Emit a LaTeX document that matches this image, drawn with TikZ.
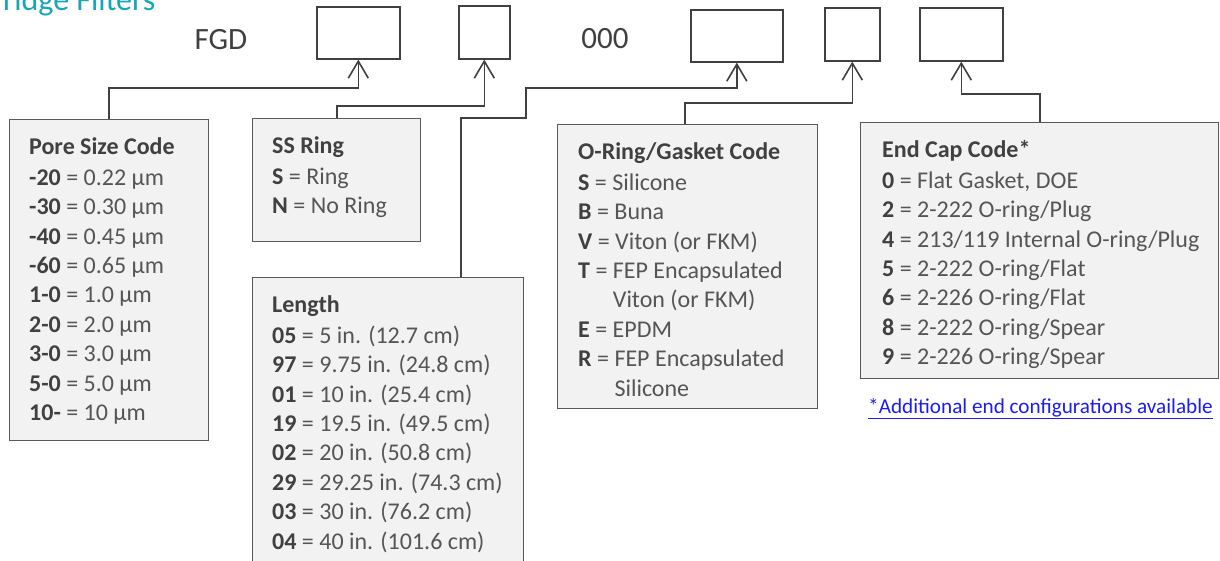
\documentclass[tikz,border=0pt]{standalone}
\usepackage{fontspec}
\setmainfont{Carlito}
\usetikzlibrary{arrows.meta}
\definecolor{boxfill}{HTML}{F2F2F2}
\definecolor{boxline}{HTML}{595959}
\definecolor{ink}{HTML}{404040}
\definecolor{softink}{HTML}{555555}
\definecolor{titleteal}{HTML}{17A5B8}
\definecolor{linkblue}{HTML}{1C1CF0}
\newcommand\opt[1]{\textbf{\color{ink}#1}}
\newcommand\firstline{\rule{0pt}{19pt}}
\tikzset{
  slot/.style={draw=ink, line width=1.6pt, fill=white, minimum width=#1,
    minimum height=52pt, inner sep=0pt, anchor=north west},
  infobox/.style={draw=boxline, line width=1.4pt, fill=boxfill,
    inner sep=0pt, anchor=north west},
  infotext/.style={anchor=north west, inner sep=0pt, align=left, text=softink,
    font=\fontsize{24}{29.4}\selectfont},
  link/.style={draw=ink, line width=1.6pt},
  pointer/.style={link, -{Straight Barb[length=17pt,width=20pt]}}
}
\begin{document}
\begin{tikzpicture}[x=1pt, y=-1pt]
  \useasboundingbox (0,0) rectangle (1220,561);
  % heading, cut off at the page edge
  \node[anchor=base west, inner sep=0pt, text=titleteal,
    font=\fontsize{32}{38}\selectfont] (heading) at (3,11) {ridge Filters};
  % part number slots
  \node[font=\fontsize{31}{37}\selectfont, text=ink] (fgd) at (221,40) {FGD};
  \node[font=\fontsize{31}{37}\selectfont, text=ink] (zeros) at (605,39) {000};
  \node[slot=83pt] (slotpore) at (316,6) {};
  \node[slot=51pt, minimum height=53pt] (slotring) at (458,5) {};
  \node[slot=92pt] (slotlen) at (690,9) {};
  \node[slot=55pt, minimum height=53pt] (slotseal) at (824,7) {};
  \node[slot=83pt, minimum height=53pt] (slotcap) at (919,7) {};
  % code boxes
  \node[infobox, minimum width=199pt, minimum height=321pt] (pore) at (9,119) {};
  \node[infobox, minimum width=168pt, minimum height=123pt] (ring) at (252,118) {};
  \node[infobox, minimum width=271pt, minimum height=320pt] (len) at (252,277) {};
  \node[infobox, minimum width=260pt, minimum height=284pt] (seal) at (557,124) {};
  \node[infobox, minimum width=358pt, minimum height=256pt] (cap) at (860,122) {};
  \node[infotext] (poretext) at ([shift={(20,16)}]pore.north west) {%
    \firstline\opt{Pore Size Code}\\[1.6pt]
    \opt{-20} = 0.22 µm\\
    \opt{-30} = 0.30 µm\\
    \opt{-40} = 0.45 µm\\
    \opt{-60} = 0.65 µm\\
    \opt{1-0} = 1.0 µm\\
    \opt{2-0} = 2.0 µm\\
    \opt{3-0} = 3.0 µm\\
    \opt{5-0} = 5.0 µm\\
    \opt{10-} = 10 µm};
  \node[infotext] (ringtext) at ([shift={(20,16)}]ring.north west) {%
    \firstline\opt{SS Ring}\\[1.6pt]
    \opt{S} = Ring\\
    \opt{N} = No Ring};
  \node[infotext] (lentext) at ([shift={(20,16)}]len.north west) {%
    \firstline\opt{Length}\\[1.6pt]
    \opt{05} = 5 in. (12.7 cm)\\
    \opt{97} = 9.75 in. (24.8 cm)\\
    \opt{01} = 10 in. (25.4 cm)\\
    \opt{19} = 19.5 in. (49.5 cm)\\
    \opt{02} = 20 in. (50.8 cm)\\
    \opt{29} = 29.25 in. (74.3 cm)\\
    \opt{03} = 30 in. (76.2 cm)\\
    \opt{04} = 40 in. (101.6 cm)};
  \node[infotext] (sealtext) at ([shift={(21,16)}]seal.north west) {%
    \firstline\opt{O-Ring/Gasket Code}\\[1.6pt]
    \opt{S} = Silicone\\
    \opt{B} = Buna\\
    \opt{V} = Viton (or FKM)\\
    \opt{T} = FEP Encapsulated\\
    \phantom{\opt{T} = }Viton (or FKM)\\
    \opt{E} = EPDM\\
    \opt{R} = FEP Encapsulated\\
    \phantom{\opt{R} = }Silicone};
  \node[infotext] (captext) at ([shift={(22,16)}]cap.north west) {%
    \firstline\opt{End Cap Code*}\\[1.6pt]
    \opt{0} = Flat Gasket, DOE\\
    \opt{2} = 2-222 O-ring/Plug\\
    \opt{4} = 213/119 Internal O-ring/Plug\\
    \opt{5} = 2-222 O-ring/Flat\\
    \opt{6} = 2-226 O-ring/Flat\\
    \opt{8} = 2-222 O-ring/Spear\\
    \opt{9} = 2-226 O-ring/Spear};
  \node[anchor=base west, inner sep=0pt, text=linkblue,
    font=\fontsize{21.2}{25}\selectfont] (morecaps) at (868,413)
    {\underline{*Additional end configurations available}};
  % connectors up to the slots
  \draw[pointer] (pore.north) -- ++(0,-31) -| (slotpore.south);
  \draw[pointer] (ring.north) -- ++(0,-12) -| (slotring.south);
  \draw[pointer] ([xshift=209pt]len.north west) -- ++(0,-159) -- ++(65,0)
    -- ++(0,-30) -| (slotlen.south);
  \draw[pointer] ([xshift=-3pt]seal.north) -- ++(0,-21) -| (slotseal.south);
  \draw[pointer] (cap.north) -- ++(0,-28) -| (slotcap.south);
\end{tikzpicture}
\end{document}
